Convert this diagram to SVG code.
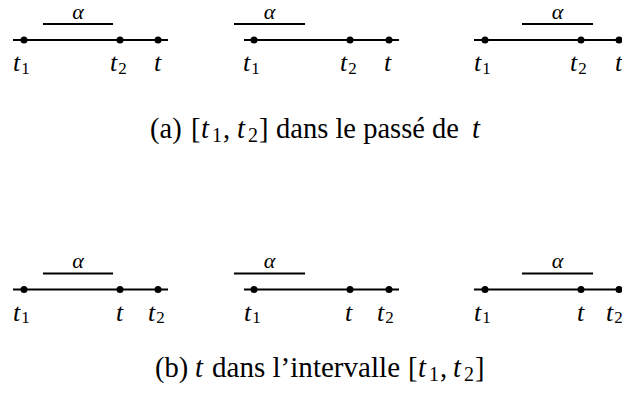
<svg xmlns="http://www.w3.org/2000/svg" width="622" height="399" viewBox="0 0 622 399">
<defs>
<style type="text/css">
.ln{stroke:#000;stroke-width:1.8;fill:none}
.dot{fill:#000}
</style>
</defs>
<rect width="622" height="399" fill="#fff"/>
<g id="connectors">
<line class="ln" x1="13" y1="40" x2="168" y2="40"/>
<line class="ln" x1="43" y1="24" x2="113" y2="24"/>
<line class="ln" x1="244" y1="40" x2="399" y2="40"/>
<line class="ln" x1="234" y1="24" x2="305" y2="24"/>
<line class="ln" x1="474" y1="40" x2="626" y2="40"/>
<line class="ln" x1="522" y1="24" x2="593" y2="24"/>
<line class="ln" x1="13" y1="289.5" x2="168" y2="289.5"/>
<line class="ln" x1="43" y1="273.5" x2="113" y2="273.5"/>
<line class="ln" x1="244" y1="289.5" x2="399" y2="289.5"/>
<line class="ln" x1="234" y1="273.5" x2="305" y2="273.5"/>
<line class="ln" x1="474" y1="289.5" x2="626" y2="289.5"/>
<line class="ln" x1="522" y1="273.5" x2="593" y2="273.5"/>
</g>
<g font-family="'Liberation Serif', 'DejaVu Serif', serif" font-size="26" font-style="italic" fill="#000">
<g id="a1">
<text x="78" y="19" font-size="22" text-anchor="middle">α</text>
<circle class="dot" cx="24" cy="40" r="3.5"/><circle class="dot" cx="120" cy="40" r="3.5"/><circle class="dot" cx="158" cy="40" r="3.5"/>
<text x="13" y="71">t<tspan font-style="normal" font-size="17" dx="1" dy="2.5">1</tspan></text>
<text x="110" y="71">t<tspan font-style="normal" font-size="17" dx="1" dy="2.5">2</tspan></text>
<text x="154" y="71">t</text>
</g>
<g id="a2">
<text x="269.5" y="19" font-size="22" text-anchor="middle">α</text>
<circle class="dot" cx="254" cy="40" r="3.5"/><circle class="dot" cx="350" cy="40" r="3.5"/><circle class="dot" cx="389" cy="40" r="3.5"/>
<text x="243" y="71">t<tspan font-style="normal" font-size="17" dx="1" dy="2.5">1</tspan></text>
<text x="340" y="71">t<tspan font-style="normal" font-size="17" dx="1" dy="2.5">2</tspan></text>
<text x="384" y="71">t</text>
</g>
<g id="a3">
<text x="557.5" y="19" font-size="22" text-anchor="middle">α</text>
<circle class="dot" cx="485" cy="40" r="3.5"/><circle class="dot" cx="581" cy="40" r="3.5"/><circle class="dot" cx="619" cy="40" r="3.5"/>
<text x="474" y="71">t<tspan font-style="normal" font-size="17" dx="1" dy="2.5">1</tspan></text>
<text x="570" y="71">t<tspan font-style="normal" font-size="17" dx="1" dy="2.5">2</tspan></text>
<text x="615" y="71">t</text>
</g>
<g id="b1">
<text x="78" y="268" font-size="22" text-anchor="middle">α</text>
<circle class="dot" cx="24" cy="289.5" r="3.5"/><circle class="dot" cx="120" cy="289.5" r="3.5"/><circle class="dot" cx="158" cy="289.5" r="3.5"/>
<text x="13" y="320.5">t<tspan font-style="normal" font-size="17" dx="1" dy="2.5">1</tspan></text>
<text x="116" y="320.5">t</text>
<text x="148" y="320.5">t<tspan font-style="normal" font-size="17" dx="1" dy="2.5">2</tspan></text>
</g>
<g id="b2">
<text x="269.5" y="268" font-size="22" text-anchor="middle">α</text>
<circle class="dot" cx="254" cy="289.5" r="3.5"/><circle class="dot" cx="350" cy="289.5" r="3.5"/><circle class="dot" cx="389" cy="289.5" r="3.5"/>
<text x="244" y="320.5">t<tspan font-style="normal" font-size="17" dx="1" dy="2.5">1</tspan></text>
<text x="345" y="320.5">t</text>
<text x="377" y="320.5">t<tspan font-style="normal" font-size="17" dx="1" dy="2.5">2</tspan></text>
</g>
<g id="b3">
<text x="557.5" y="268" font-size="22" text-anchor="middle">α</text>
<circle class="dot" cx="485" cy="289.5" r="3.5"/><circle class="dot" cx="581" cy="289.5" r="3.5"/><circle class="dot" cx="619" cy="289.5" r="3.5"/>
<text x="474" y="320.5">t<tspan font-style="normal" font-size="17" dx="1" dy="2.5">1</tspan></text>
<text x="577" y="320.5">t</text>
<text x="606" y="320.5">t<tspan font-style="normal" font-size="17" dx="1" dy="2.5">2</tspan></text>
</g>
</g>
<g font-family="'Liberation Serif', 'DejaVu Serif', serif" font-size="28.5" fill="#000">
<g id="capA">
<text x="150" y="138">(a)</text>
<text x="191" y="138">[</text>
<text x="201" y="138" font-style="italic">t</text>
<text x="212" y="141.5" font-size="20">1</text>
<text x="223" y="138">,</text>
<text x="237" y="138" font-style="italic">t</text>
<text x="248" y="141.5" font-size="20">2</text>
<text x="259" y="138">]</text>
<text x="276" y="138" textLength="183" lengthAdjust="spacing">dans le passé de</text>
<text x="472" y="138" font-style="italic">t</text>
</g>
<g id="capB">
<text x="155" y="377">(b)</text>
<text x="195" y="377" font-style="italic">t</text>
<text x="212" y="377" font-size="29" textLength="188" lengthAdjust="spacing">dans l’intervalle</text>
<text x="408" y="377">[</text>
<text x="418" y="377" font-style="italic">t</text>
<text x="429" y="380.5" font-size="20">1</text>
<text x="440" y="377">,</text>
<text x="453" y="377" font-style="italic">t</text>
<text x="464" y="380.5" font-size="20">2</text>
<text x="475" y="377">]</text>
</g>
</g>
</svg>
